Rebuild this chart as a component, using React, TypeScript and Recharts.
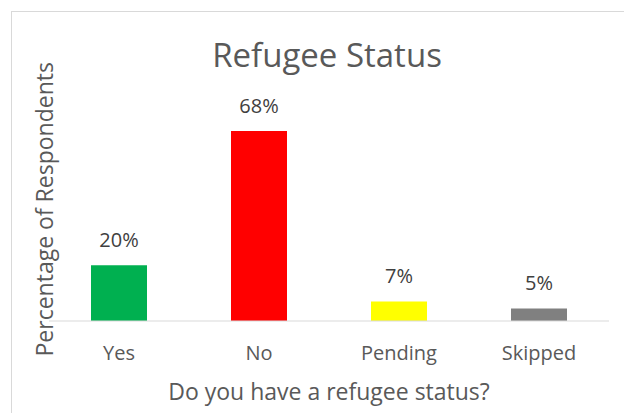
import { BarChart, Bar, XAxis, YAxis, LabelList, Cell, Label } from 'recharts'

const categories = ['Yes', 'No', 'Pending', 'Skipped']
const percentages = [20, 68, 7, 4.5]
const valueLabels = ['20%', '68%', '7%', '5%']
const barColors = ['#00B050', '#FF0000', '#FFFF00', '#808080']

const data = categories.map((name, i) => ({
    name,
    value: percentages[i],
    label: valueLabels[i],
}))

const FONT = '"Open Sans", sans-serif'
const TEXT = '#595959'

export default function App() {
    return (
        <div
            style={{
                position: 'absolute',
                left: 0,
                top: 0,
                width: 624,
                height: 413,
                overflow: 'hidden',
                background: '#fff',
                fontFamily: FONT,
            }}
        >
            <div
                style={{
                    position: 'absolute',
                    left: 11,
                    top: 11,
                    width: 700,
                    height: 500,
                    border: '1px solid #D9D9D9',
                }}
            />
            <div
                style={{
                    position: 'absolute',
                    left: 30,
                    top: 38,
                    width: 594,
                    textAlign: 'center',
                    fontSize: 33,
                    lineHeight: '33px',
                    color: TEXT,
                }}
            >
                Refugee Status
            </div>
            <div style={{ position: 'absolute', left: 0, top: 0 }}>
                <BarChart
                    width={624}
                    height={413}
                    data={data}
                    margin={{ top: 97.5, right: 15, bottom: 32, left: 0 }}
                    barCategoryGap="30%"
                >
                    <XAxis
                        dataKey="name"
                        height={60}
                        tickLine={false}
                        tickMargin={19}
                        axisLine={{ stroke: '#D9D9D9', strokeWidth: 1 }}
                        tick={{ fill: TEXT, fontSize: 20, fontFamily: FONT }}
                    >
                        <Label
                            value="Do you have a refugee status?"
                            position="bottom"
                            offset={3}
                            fill={TEXT}
                            fontSize={23}
                            fontFamily={FONT}
                        />
                    </XAxis>
                    <YAxis
                        width={49}
                        domain={[0, 80]}
                        tick={false}
                        tickLine={false}
                        axisLine={false}
                    >
                        <Label
                            content={({ viewBox }: any) => {
                                const cx = viewBox.x + 45
                                const cy = viewBox.y + viewBox.height / 2
                                return (
                                    <text
                                        x={cx}
                                        y={cy}
                                        transform={`rotate(-90 ${cx} ${cy})`}
                                        textAnchor="middle"
                                        fill={TEXT}
                                        fontSize={23}
                                        fontFamily={FONT}
                                        dy="0.355em"
                                    >
                                        Percentage of Respondents
                                    </text>
                                )
                            }}
                        />
                    </YAxis>
                    <Bar dataKey="value" isAnimationActive={false}>
                        {data.map((entry, index) => (
                            <Cell key={entry.name} fill={barColors[index]} />
                        ))}
                        <LabelList
                            dataKey="label"
                            position="top"
                            offset={18}
                            fill="#404040"
                            fontSize={20}
                            fontFamily={FONT}
                        />
                    </Bar>
                </BarChart>
            </div>
        </div>
    )
}
